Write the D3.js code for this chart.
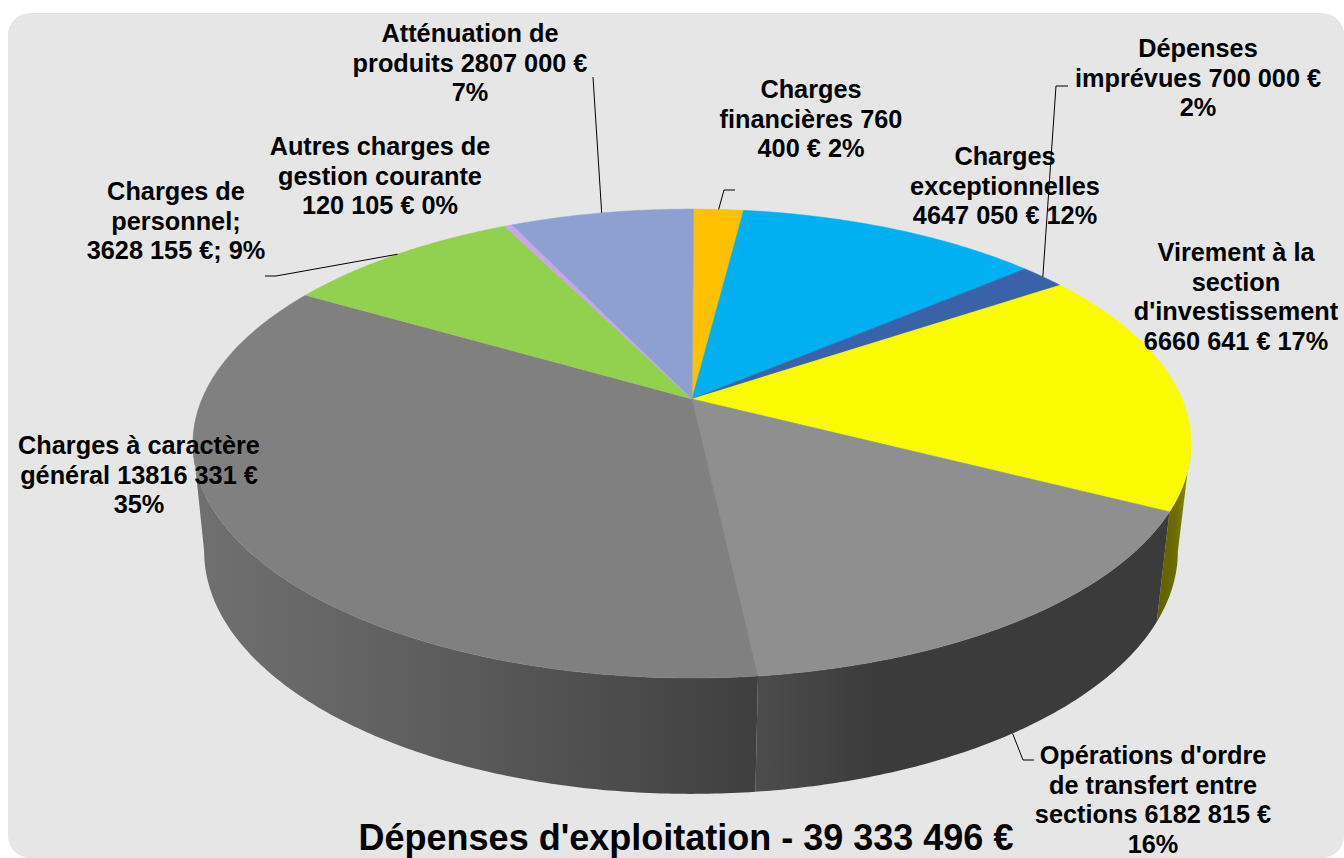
<!DOCTYPE html>
<html>
<head>
<meta charset="utf-8">
<title>Dépenses d'exploitation</title>
<script src="https://cdn.jsdelivr.net/npm/d3@7"></script>
<style>
  html, body { margin: 0; padding: 0; background: #fff; overflow: hidden; }
  svg { display: block; }
  text { font-family: "Liberation Sans", Arial, sans-serif; font-weight: bold; fill: #000; }
</style>
</head>
<body>
<script>
// donnees, dans l'ordre du camembert (sens horaire depuis le haut)
var postes = ["Charges financières", "Charges exceptionnelles", "Dépenses imprévues", "Virement à la section d'investissement", "Opérations d'ordre de transfert entre sections", "Charges à caractère général", "Charges de personnel", "Autres charges de gestion courante", "Atténuation de produits"];
var montants = [760400, 4647050, 700000, 6660641, 6182815, 13816331, 3628155, 120105, 2807000];
var couleurs = ["#ffc000", "#00b0f0", "#3a62a8", "#fbfb00", "#8f8f8f", "#808080", "#92d050", "#c9a6e8", "#8ea0d2"];
var etiquettes = [
  ["Charges", "financières 760", "400 € 2%"],
  ["Charges", "exceptionnelles", "4647 050 € 12%"],
  ["Dépenses", "imprévues 700 000 €", "2%"],
  ["Virement à la", "section", "d'investissement", "6660 641 € 17%"],
  ["Opérations d'ordre", "de transfert entre", "sections 6182 815 €", "16%"],
  ["Charges à caractère", "général 13816 331 €", "35%"],
  ["Charges de", "personnel;", "3628 155 €; 9%"],
  ["Autres charges de", "gestion courante", "120 105 € 0%"],
  ["Atténuation de", "produits 2807 000 €", "7%"]
];
var titre = "Dépenses d'exploitation - 39 333 496 €";

// mise en page
var width = 1344, height = 858;
var posEtiquettes = [[811, 90], [1005, 157], [1198, 49], [1236, 253], [1153, 756], [139, 446], [176, 192], [380, 147], [470, 34]];
var interligne = 29.6;
// coudes des traits de rappel
var rappels = [
  {i: 0, pts: [[724, 190], [735, 190]], bas: false},
  {i: 2, pts: [[1056, 86], [1068, 86]], bas: false},
  {i: 4, pts: [[1023, 760], [1034, 760]], bas: true},
  {i: 6, pts: [[276, 276], [265, 276]], bas: false},
  {i: 8, pts: [[593, 77]], bas: false}
];

// projection en perspective du disque : dessus et dessous
var k = 0.19;
var rotation = 0.004;
var dessus = {cx: 692, cy: 399, A: 490, B: 226};
var dessous = {cx: 691, cy: 505, A: 478, B: 234};
// angle ou le flanc passe derriere le dessus (silhouette droite et gauche)
var tangente = Math.acos(-k);

function projette(p, a) {
  var w = 1 + k * Math.cos(a);
  return [p.cx + p.A * Math.sin(a) / w, p.cy - p.B * Math.cos(a) / w];
}

function arc(p, a0, a1) {
  var n = Math.max(2, Math.ceil(Math.abs(a1 - a0) / 0.01));
  return d3.range(n + 1).map(function(j) {
    return projette(p, a0 + (a1 - a0) * j / n);
  });
}

var pie = d3.pie().sort(null).startAngle(rotation).endAngle(2 * Math.PI + rotation);
var parts = pie(montants);
var ligne = d3.line();

var svg = d3.select("body").append("svg")
  .attr("width", width)
  .attr("height", height);

svg.append("rect")
  .attr("x", 8).attr("y", 13)
  .attr("width", 1336).attr("height", 845)
  .attr("rx", 22).attr("ry", 22)
  .attr("fill", "#e6e6e6");

// degrades des flancs
var defs = svg.append("defs");
function degrade(id, x1, x2, stops) {
  var g = defs.append("linearGradient")
    .attr("id", id)
    .attr("gradientUnits", "userSpaceOnUse")
    .attr("x1", x1).attr("x2", x2).attr("y1", 0).attr("y2", 0);
  stops.forEach(function(s) {
    g.append("stop").attr("offset", s[0]).attr("stop-color", s[1]);
  });
}
degrade("flanc3", 1156, 1191, [[0, "#5f5f00"], [0.55, "#6c6c00"], [0.9, "#8a8a00"], [1, "#b5b500"]]);
degrade("flanc4", 752, 1170, [[0, "#4d4d4d"], [0.3, "#3b3b3b"], [1, "#3b3b3b"]]);
degrade("flanc5", 195, 752, [[0, "#707070"], [0.37, "#606060"], [0.72, "#4e4e4e"], [1, "#3f3f3f"]]);

// flancs visibles : virement, operations, charges generales
[3, 4, 5].forEach(function(i) {
  var d = parts[i];
  var a0 = Math.max(d.startAngle, tangente);
  var a1 = Math.min(d.endAngle, 2 * Math.PI - tangente);
  var pts = arc(dessus, a0, a1).concat(arc(dessous, a1, a0));
  svg.append("path")
    .attr("d", ligne(pts) + "Z")
    .attr("fill", "url(#flanc" + i + ")");
});

// dessus du camembert
svg.append("g").selectAll("path")
  .data(parts)
  .enter()
  .append("path")
  .attr("d", function(d) {
    return ligne([[dessus.cx, dessus.cy]].concat(arc(dessus, d.startAngle, d.endAngle))) + "Z";
  })
  .attr("fill", function(d, i) { return couleurs[i]; })
  .attr("stroke", function(d, i) { return couleurs[i]; })
  .attr("stroke-width", 0.5);

// traits de rappel
rappels.forEach(function(r) {
  var d = parts[r.i];
  var depart = projette(r.bas ? dessous : dessus, (d.startAngle + d.endAngle) / 2);
  svg.append("path")
    .attr("d", ligne([depart].concat(r.pts)))
    .attr("fill", "none")
    .attr("stroke", "#000")
    .attr("stroke-width", 1);
});

// etiquettes
etiquettes.forEach(function(lignes, i) {
  var t = svg.append("text")
    .attr("text-anchor", "middle")
    .attr("font-size", 25.3);
  lignes.forEach(function(l, j) {
    t.append("tspan")
      .attr("x", posEtiquettes[i][0])
      .attr("y", posEtiquettes[i][1] + 8 + j * interligne)
      .text(l);
  });
});

svg.append("text")
  .attr("x", 686).attr("y", 850)
  .attr("text-anchor", "middle")
  .attr("font-size", 36)
  .text(titre);
</script>
</body>
</html>
